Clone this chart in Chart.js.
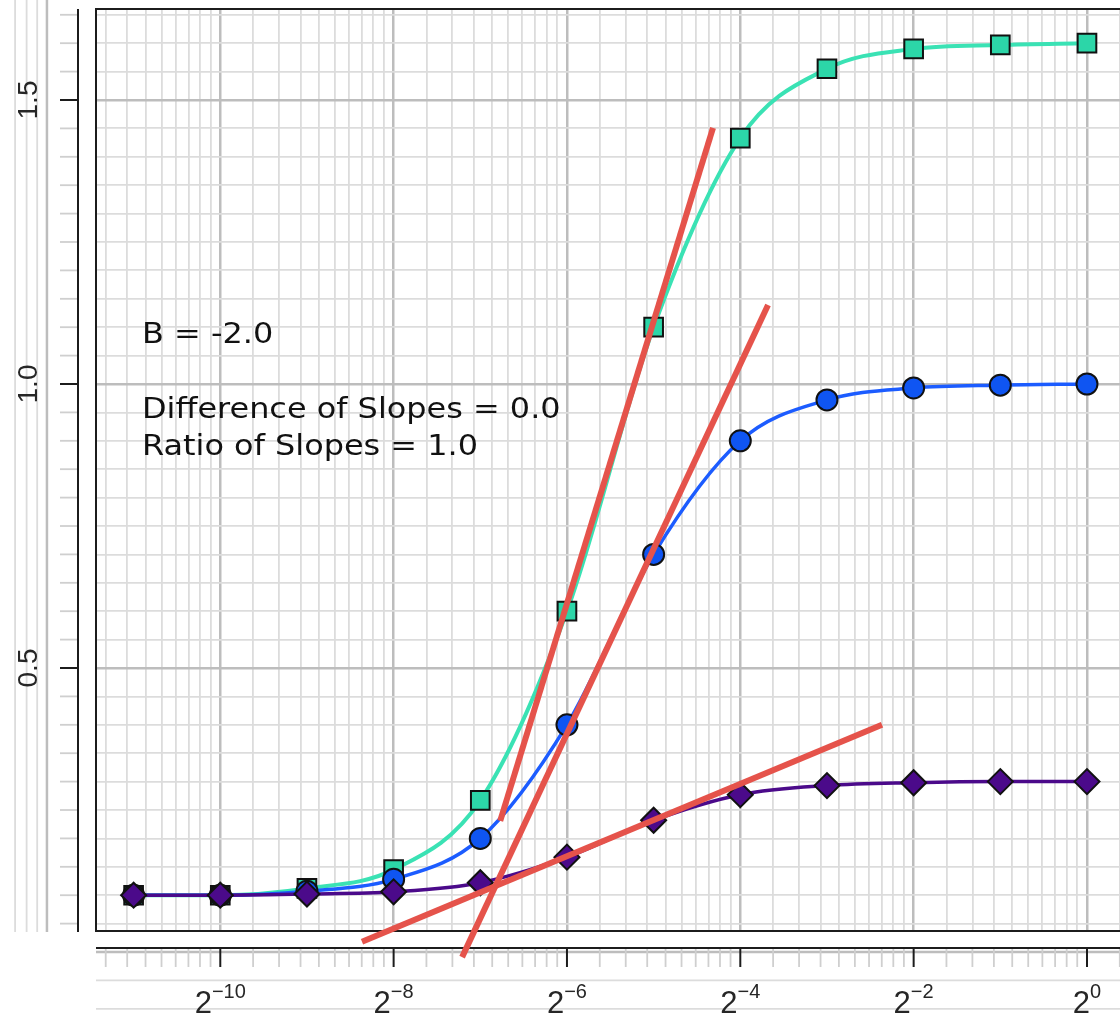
<!DOCTYPE html>
<html>
<head>
<meta charset="utf-8">
<script src="https://cdn.jsdelivr.net/npm/chart.js@4.4.1/dist/chart.umd.min.js"></script>
<style>
  html, body { margin: 0; padding: 0; background: #fff; overflow: hidden; }
  #wrap { width: 1120px; height: 1017px; position: relative; }
</style>
</head>
<body>
<div id="wrap"><canvas id="c" width="1120" height="1017"></canvas></div>
<script>
// Doses are powers of two: 2^-11 ... 2^0
const doseExponents = [-11, -10, -9, -8, -7, -6, -5, -4, -3, -2, -1, 0];

// Responses of the three dose-response curves
const highResponse = [0.100, 0.100, 0.112, 0.145, 0.267, 0.600, 1.100, 1.433, 1.555, 1.590, 1.597, 1.600];
const midResponse  = [0.100, 0.100, 0.107, 0.128, 0.200, 0.400, 0.700, 0.900, 0.972, 0.993, 0.998, 1.000];
const lowResponse  = [0.100, 0.100, 0.102, 0.106, 0.122, 0.167, 0.232, 0.277, 0.293, 0.298, 0.300, 0.300];

// Tangent lines at the inflection points (dose exponent, response) for each end
const tangentHighExp = [-6.77, -4.315];
const tangentHighResp = [0.231, 1.451];
const tangentMidExp = [-7.21, -3.68];
const tangentMidResp = [-0.009, 1.139];
const tangentLowExp = [-8.365, -2.365];
const tangentLowResp = [0.018, 0.400];

// Axis ticks
const xMajorExponents = [-14, -12, -10, -8, -6, -4, -2, 0, 2];
const xLabelExponents = [-10, -8, -6, -4, -2, 0];
const yLabelValues = [0.5, 1.0, 1.5];
const yLabels = ['0.5', '1.0', '1.5'];

// Annotation lines
const noteLines = ['B = -2.0', 'Difference of Slopes = 0.0', 'Ratio of Slopes = 1.0'];

const asPoints = (exps, vals) => exps.map((e, i) => ({ x: Math.pow(2, e), y: vals[i] }));

// Grid positions: powers of two every two steps, with nine evenly spaced minor lines between
function xGridTicks() {
  const out = [];
  for (let i = 0; i < xMajorExponents.length - 1; i++) {
    const lo = Math.pow(2, xMajorExponents[i]);
    const hi = Math.pow(2, xMajorExponents[i + 1]);
    out.push({ value: lo, major: true });
    for (let k = 1; k < 10; k++) out.push({ value: lo + (hi - lo) * k / 10, major: false });
  }
  return out;
}
function yGridTicks() {
  const out = [];
  for (let k = -2; k <= 33; k++) out.push({ value: Math.round(k * 5) / 100, major: k % 10 === 0 });
  return out;
}

const GRID_MAJOR = '#bdbdbd';
const GRID_MINOR = '#dcdcdc';

const X_MIN = Math.pow(2, -11.434);
const X_MAX = Math.pow(2, 0.381);
const Y_MIN = 0.03699;
const Y_MAX = 1.6602;

function seg(c, x1, y1, x2, y2, color, w) {
  c.beginPath();
  c.strokeStyle = color;
  c.lineWidth = w;
  c.moveTo(x1, y1);
  c.lineTo(x2, y2);
  c.stroke();
}

const frame = {
  id: 'frame',
  beforeDraw(chart) {
    const c = chart.ctx;
    c.save();
    c.fillStyle = '#fff';
    c.fillRect(0, 0, chart.width, chart.height);
    c.restore();
  },
  beforeDatasetsDraw(chart) {
    const c = chart.ctx;
    const xs = chart.scales.x, ys = chart.scales.y, a = chart.chartArea;
    const yAxisX = 78, yTickX = 60, xAxisY = 948, xTickY = 967;
    c.save();

    // grid continuing past the panel: vertical strip at far left, horizontal strip at bottom
    xGridTicks().forEach(t => {
      const px = xs.getPixelForValue(t.value);
      if (px > 10 && px < 56) seg(c, px, 0, px, 932, t.major ? GRID_MAJOR : GRID_MINOR, t.major ? 2.5 : 1.8);
    });
    yGridTicks().forEach(t => {
      if (t.value < 0.01) {
        const py = ys.getPixelForValue(t.value);
        seg(c, a.left, py, a.right, py, t.major ? GRID_MAJOR : GRID_MINOR, t.major ? 2.5 : 1.8);
      }
    });

    // plot frame (open to the right edge)
    c.beginPath();
    c.strokeStyle = '#1c1c1c';
    c.lineWidth = 2;
    c.moveTo(a.right + 5, a.top);
    c.lineTo(a.left, a.top);
    c.lineTo(a.left, a.bottom);
    c.lineTo(a.right + 5, a.bottom);
    c.stroke();

    // y axis with tick marks
    yGridTicks().forEach(t => {
      const py = ys.getPixelForValue(t.value);
      if (py >= a.top - 1 && py <= a.bottom) {
        seg(c, yTickX, py, yAxisX, py, t.major ? '#1c1c1c' : '#cfcfcf', t.major ? 2 : 1.8);
      }
    });
    seg(c, yAxisX, a.top, yAxisX, 932, '#1c1c1c', 2);

    // x axis with tick marks
    xGridTicks().forEach(t => {
      const px = xs.getPixelForValue(t.value);
      if (px >= a.left && px <= a.right) {
        seg(c, px, xAxisY, px, xTickY, t.major ? '#1c1c1c' : '#cfcfcf', t.major ? 2 : 1.8);
      }
    });
    seg(c, a.left, xAxisY, a.right, xAxisY, '#1c1c1c', 2);

    // y labels, rotated
    c.fillStyle = '#262626';
    c.font = '28px "Liberation Sans", Arial, sans-serif';
    c.textAlign = 'center';
    c.textBaseline = 'alphabetic';
    yLabelValues.forEach((v, i) => {
      const py = ys.getPixelForValue(v);
      c.save();
      c.translate(37, py);
      c.rotate(-Math.PI / 2);
      c.fillText(yLabels[i], 0, 0);
      c.restore();
    });

    // x labels: 2 with a superscript exponent
    c.textAlign = 'left';
    xLabelExponents.forEach(e => {
      const px = xs.getPixelForValue(Math.pow(2, e));
      const base = '2';
      const sup = e < 0 ? '\u2212' + Math.abs(e) : String(e);
      c.font = '31px "Liberation Sans", Arial, sans-serif';
      const wb = c.measureText(base).width;
      c.font = '20px "Liberation Sans", Arial, sans-serif';
      const ws = c.measureText(sup).width;
      const x0 = px - (wb + ws) / 2;
      c.font = '31px "Liberation Sans", Arial, sans-serif';
      c.fillText(base, x0, 1013);
      c.font = '20px "Liberation Sans", Arial, sans-serif';
      c.fillText(sup, x0 + wb, 998);
    });

    // annotation
    c.fillStyle = '#111';
    c.font = '28px "DejaVu Sans", Verdana, sans-serif';
    const baselines = [343, 418, 455];
    noteLines.forEach((s, i) => {
      c.save();
      c.translate(142, baselines[i]);
      c.scale(1.14, 1);
      c.fillText(s, 0, 0);
      c.restore();
    });

    c.restore();
  }
};

const RED = '#e5534b';
const tangentStyle = {
  borderColor: RED,
  borderWidth: 6,
  borderCapStyle: 'butt',
  pointRadius: 0,
  showLine: true,
  tension: 0,
  clip: false
};

new Chart(document.getElementById('c'), {
  type: 'line',
  data: {
    datasets: [
      Object.assign({ label: 'tangent high', data: asPoints(tangentHighExp, tangentHighResp), order: 0 }, tangentStyle),
      Object.assign({ label: 'tangent mid', data: asPoints(tangentMidExp, tangentMidResp), order: 1 }, tangentStyle),
      Object.assign({ label: 'tangent low', data: asPoints(tangentLowExp, tangentLowResp), order: 2 }, tangentStyle),
      {
        label: 'low', data: asPoints(doseExponents, lowResponse), order: 3,
        borderColor: '#4b0a8a', borderWidth: 3.5,
        pointStyle: 'rectRot', pointRadius: 12.5,
        pointBackgroundColor: '#4b0a8a', pointBorderColor: '#111', pointBorderWidth: 2,
        cubicInterpolationMode: 'monotone'
      },
      {
        label: 'mid', data: asPoints(doseExponents, midResponse), order: 4,
        borderColor: '#1c5cff', borderWidth: 3.5,
        pointStyle: 'circle', pointRadius: 10.5,
        pointBackgroundColor: '#0f55f2', pointBorderColor: '#111', pointBorderWidth: 2,
        cubicInterpolationMode: 'monotone'
      },
      {
        label: 'high', data: asPoints(doseExponents, highResponse), order: 5,
        borderColor: '#3ae2b4', borderWidth: 4,
        pointStyle: 'rect', pointRadius: 13.2,
        pointBackgroundColor: '#2cd6a8', pointBorderColor: '#111', pointBorderWidth: 2,
        cubicInterpolationMode: 'monotone'
      }
    ]
  },
  options: {
    responsive: false,
    animation: false,
    devicePixelRatio: 1,
    events: [],
    layout: { autoPadding: false, padding: { left: 96, top: 9, right: 0, bottom: 86 } },
    plugins: { legend: { display: false }, tooltip: { enabled: false }, title: { display: false } },
    scales: {
      x: {
        type: 'logarithmic',
        min: X_MIN,
        max: X_MAX,
        afterBuildTicks: s => {
          s.ticks = xGridTicks().filter(t => t.value >= X_MIN && t.value <= X_MAX);
        },
        afterFit: s => { s.height = 0; },
        ticks: { display: false },
        border: { display: false },
        grid: {
          drawTicks: false,
          color: ctx => (ctx.tick && ctx.tick.major) ? GRID_MAJOR : GRID_MINOR,
          lineWidth: ctx => (ctx.tick && ctx.tick.major) ? 2.5 : 1.8
        }
      },
      y: {
        type: 'linear',
        min: Y_MIN,
        max: Y_MAX,
        afterBuildTicks: s => {
          s.ticks = yGridTicks().filter(t => t.value >= Y_MIN && t.value <= Y_MAX);
        },
        afterFit: s => { s.width = 0; },
        ticks: { display: false },
        border: { display: false },
        grid: {
          drawTicks: false,
          color: ctx => (ctx.tick && ctx.tick.major) ? GRID_MAJOR : GRID_MINOR,
          lineWidth: ctx => (ctx.tick && ctx.tick.major) ? 2.5 : 1.8
        }
      }
    }
  },
  plugins: [frame]
});
</script>
</body>
</html>
